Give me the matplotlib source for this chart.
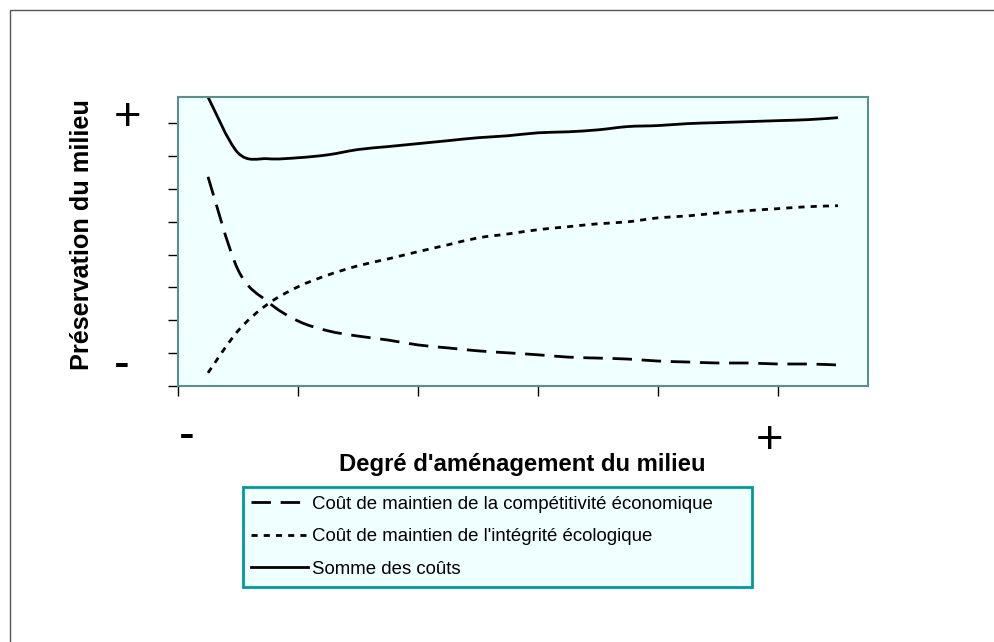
import matplotlib
matplotlib.use("Agg")
import matplotlib.pyplot as plt
from matplotlib.patches import Rectangle, PathPatch
from matplotlib.lines import Line2D
from matplotlib.path import Path

plt.rcParams['font.family'] = ['Liberation Sans', 'DejaVu Sans']

# Data (arbitrary units)
degre = [1, 2, 3, 4, 5, 6, 7, 8, 9, 10, 11, 12, 13, 14, 15, 16, 17, 18, 19, 20, 21, 22]
cout_economique = [6.37, 3.54, 2.56, 1.98, 1.68, 1.52, 1.40, 1.25, 1.16, 1.07, 1.01,
                   0.95, 0.88, 0.85, 0.82, 0.76, 0.73, 0.70, 0.70, 0.67, 0.67, 0.64]
cout_ecologique = [0.40, 1.68, 2.50, 3.02, 3.38, 3.66, 3.87, 4.09, 4.30, 4.51, 4.63,
                   4.76, 4.85, 4.94, 5.00, 5.12, 5.18, 5.27, 5.34, 5.40, 5.46, 5.49]
somme_couts = [8.80, 7.10, 6.92, 6.95, 7.04, 7.20, 7.29, 7.38, 7.47, 7.56, 7.62,
               7.71, 7.74, 7.80, 7.90, 7.93, 7.99, 8.02, 8.05, 8.08, 8.11, 8.17]
labels = ["Coût de maintien de la compétitivité économique",
          "Coût de maintien de l'intégrité écologique",
          "Somme des coûts"]
x_ticks = [0, 4, 8, 12, 16, 20]
y_ticks = [0, 1, 2, 3, 4, 5, 6, 7, 8]


def smooth_path(xs, ys):
    """Smoothed line through the data points (Bezier segments, like a spreadsheet 'smoothed line')."""
    verts = [(xs[0], ys[0])]
    codes = [Path.MOVETO]
    n = len(xs)
    for i in range(n - 1):
        x0, y0 = xs[max(i - 1, 0)], ys[max(i - 1, 0)]
        x1, y1 = xs[i], ys[i]
        x2, y2 = xs[i + 1], ys[i + 1]
        x3, y3 = xs[min(i + 2, n - 1)], ys[min(i + 2, n - 1)]
        c1 = (x1 + (x2 - x0) / 6, y1 + (y2 - y0) / 6)
        c2 = (x2 - (x3 - x1) / 6, y2 - (y3 - y1) / 6)
        verts += [c1, c2, (x2, y2)]
        codes += [Path.CURVE4] * 3
    return Path(verts, codes)


W, H = 994, 642
fig = plt.figure(figsize=(W / 100, H / 100), dpi=100)
fig.patch.set_facecolor('white')

# outer chart border
fig.patches.append(Rectangle((10 / W, -0.1), 1.2, 1 - 10 / H + 0.1, transform=fig.transFigure,
                             fill=False, edgecolor='#555555', linewidth=1.0))

ax = fig.add_axes([178 / W, 1 - 386 / H, (868 - 178) / W, (386 - 97) / H])
ax.set_facecolor('#F0FFFF')
lw = 2.0
styles = [(0, (7, 3.5)), (0, (2.2, 2.2)), 'solid']
series = [cout_economique, cout_ecologique, somme_couts]
handles = []
for vals, ls, lab in zip(series, styles, labels):
    pp = PathPatch(smooth_path(degre, vals), fill=False, edgecolor='black', lw=lw,
                   linestyle=ls, capstyle='butt')
    ax.add_patch(pp)
    handles.append(Line2D([], [], color='black', lw=lw, linestyle=ls,
                          dash_capstyle='butt', label=lab))
ax.set_xlim(0, 23)
ax.set_ylim(0, 8.8)
ax.set_xticks(x_ticks)
ax.set_yticks(y_ticks)
ax.set_xticklabels([])
ax.set_yticklabels([])
ax.tick_params(axis='both', direction='out', length=7, width=1, color='black')
for s in ax.spines.values():
    s.set_color('#5a8f8f')
    s.set_linewidth(1.5)

# axis texts
fig.text(82 / W, 1 - 235 / H, "Préservation du milieu", rotation=90, ha='center', va='center',
         fontsize=18.2, fontweight='bold')
fig.text(522 / W, 1 - 464 / H, "Degré d'aménagement du milieu", ha='center', va='center',
         fontsize=17.2, fontweight='bold')
fig.text(128 / W, 1 - 118 / H, "+", ha='center', va='center', fontsize=34)
fig.text(122 / W, 1 - 366 / H, "-", ha='center', va='center', fontsize=34)
fig.text(187 / W, 1 - 437 / H, "-", ha='center', va='center', fontsize=34)
fig.text(770 / W, 1 - 441 / H, "+", ha='center', va='center', fontsize=34)

# legend box
fig.patches.append(Rectangle((243 / W, 1 - 587 / H), (752 - 243) / W, (587 - 487) / H,
                             transform=fig.transFigure, facecolor='#F0FFFF',
                             edgecolor='#009999', linewidth=2, zorder=1))
leg = fig.legend(handles, labels, loc='upper left',
                 bbox_to_anchor=(245 / W, 1 - 490 / H), frameon=False,
                 fontsize=13.4, handlelength=3.1, handletextpad=0.2,
                 labelspacing=0.84, borderpad=0.3, borderaxespad=0)
leg.set_zorder(2)

fig.savefig("out.png", dpi=100)
